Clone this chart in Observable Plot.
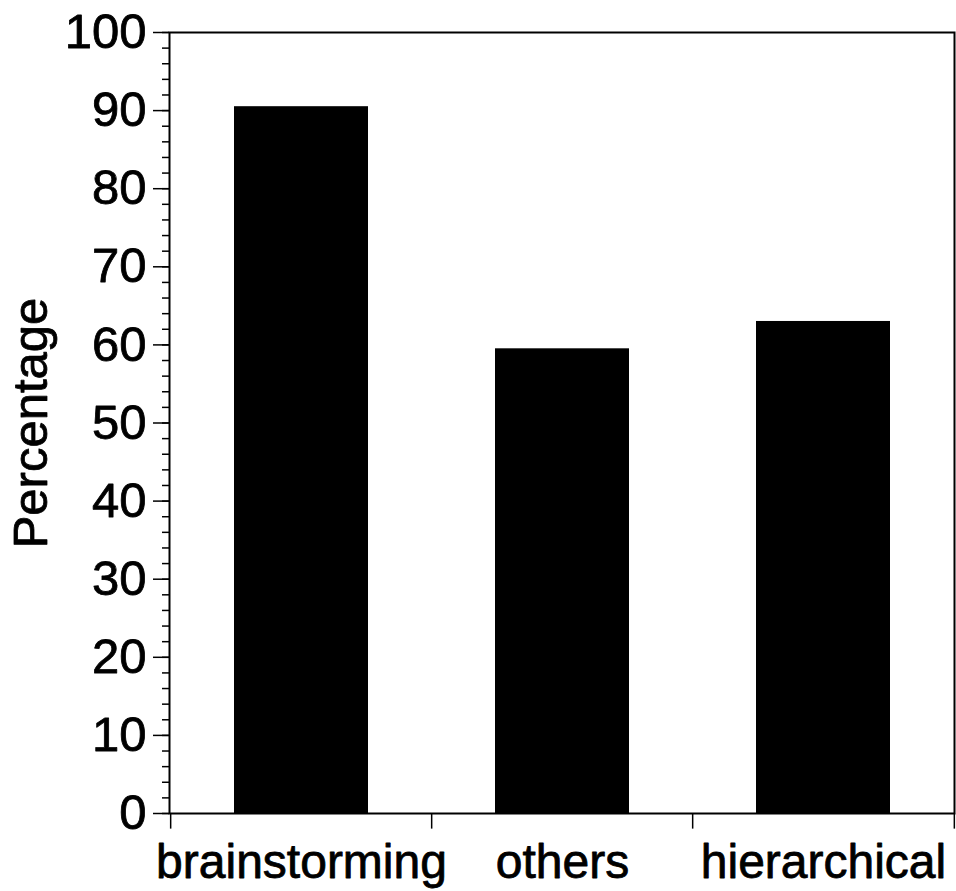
<!DOCTYPE html>
<html>
<head>
<meta charset="utf-8">
<script src="https://cdn.jsdelivr.net/npm/d3@7"></script>
<script src="https://cdn.jsdelivr.net/npm/@observablehq/plot@0.6"></script>
<style>
  html, body { margin: 0; padding: 0; background: white; }
</style>
</head>
<body>
<div id="chart"></div>
<script>
const categories = ["brainstorming", "others", "hierarchical"];
const percentages = [90.5, 59.5, 63.0];
const majorTicks = [0, 10, 20, 30, 40, 50, 60, 70, 80, 90, 100];
const minorTicks = d3.range(0, 101, 2);
const yLabel = "Percentage";

const data = categories.map((c, i) => ({category: c, value: percentages[i]}));

const W = 956, H = 891;
const mL = 169, mR = 2, mT = 32, mB = 78;
const step = (W - mL - mR) / categories.length;

const chart = Plot.plot({
  width: W,
  height: H,
  marginLeft: mL,
  marginRight: mR,
  marginTop: mT,
  marginBottom: mB,
  style: {fontFamily: "'Liberation Sans', Arial, sans-serif", background: "white", color: "black", overflow: "visible"},
  x: {domain: categories, paddingInner: 0.487, paddingOuter: 0.2435, axis: null},
  y: {domain: [0, 100], axis: null},
  marks: [
    Plot.barY(data, {x: "category", y: "value", fill: "black"}),
    Plot.frame({stroke: "black", strokeWidth: 2}),
    Plot.axisY({ticks: minorTicks, tickSize: 7, fill: "none", stroke: "black", strokeWidth: 1.5}),
    Plot.axisY({ticks: majorTicks, tickSize: 16, tickPadding: 7, fontSize: 49, label: null,
      stroke: "black", strokeWidth: 1.5, fill: "black", textStroke: "black", textStrokeWidth: 0.8}),
    Plot.axisX({tickSize: 0, tickPadding: 30, fontSize: 48, label: null, fill: "black",
      textStroke: "black", textStrokeWidth: 0.8}),
    Plot.ruleX(categories, {x: d => d, dx: -step / 2, y1: 0, y2: -2, stroke: "black", strokeWidth: 1.5}),
    Plot.ruleX([categories[categories.length - 1]], {x: d => d, dx: step / 2, y1: 0, y2: -2, stroke: "black", strokeWidth: 1.5}),
    Plot.text([yLabel], {frameAnchor: "left", textAnchor: "middle", lineAnchor: "middle", dx: -138, rotate: -90,
      fontSize: 49, fill: "black", stroke: "black", strokeWidth: 0.8})
  ]
});
document.getElementById("chart").appendChild(chart);
</script>
</body>
</html>
